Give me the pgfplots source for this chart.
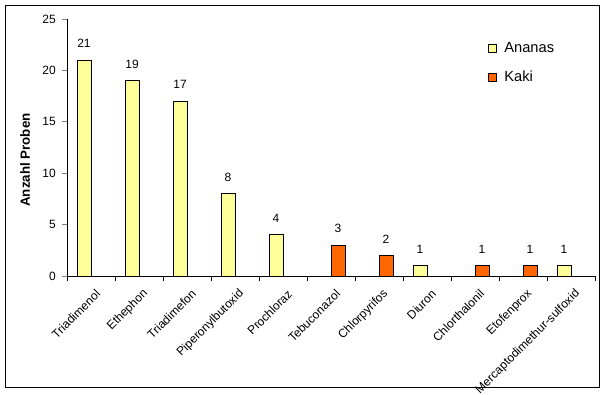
\documentclass[border=0pt]{standalone}
\usepackage{pgfplots}
\pgfplotsset{compat=1.18}
\usepackage{fontspec}
\setmainfont{Liberation Sans}
\definecolor{ananas}{HTML}{FFFF99}
\definecolor{kaki}{HTML}{FF6600}
\begin{document}
\begin{tikzpicture}
\useasboundingbox (0pt,0pt) rectangle (453.75pt,295.5pt);
\fill[white] (0pt,0pt) rectangle (453.75pt,295.5pt);
\draw[black, line width=0.75pt] (3.75pt,5.25pt) rectangle (449.25pt,291.75pt);
\begin{axis}[
  at={(50.25pt,88.5pt)}, anchor=south west,
  scale only axis, width=396pt, height=192.75pt,
  xmin=-0.5, xmax=10.5, ymin=0, ymax=25,
  axis lines*=left,
  axis line style={line width=0.75pt},
  ybar, bar width=10.5pt,
  ytick={0,5,10,15,20,25},
  xtick={0,...,10},
  xticklabels={Triadimenol,Ethephon,Triadimefon,Piperonylbutoxid,Prochloraz,Tebuconazol,Chlorpyrifos,Diuron,Chlorthalonil,Etofenprox,Mercaptodimethur-sulfoxid},
  minor xtick={-0.5,0.5,...,10.5},
  tick align=outside,
  major tick length=3.75pt,
  minor tick length=3.75pt,
  xtick style={draw=none},
  minor x tick style={draw=black, line width=0.75pt},
  ytick style={line width=0.75pt},
  /pgf/number format/assume math mode=true,
  tick label style={font=\fontsize{9pt}{10pt}\selectfont},
  xticklabel style={rotate=45, anchor=east, inner sep=0pt, yshift=-9.5pt, xshift=-2pt},
  yticklabel style={inner sep=0pt, xshift=-4.5pt},
  ylabel={\textbf{Anzahl Proben}},
  ylabel style={at={(axis description cs:-0.0795,0.451)}, anchor=center, font=\fontsize{10pt}{12pt}\selectfont},
  nodes near coords,
  every node near coord/.append style={font=\fontsize{9pt}{10pt}\selectfont, inner sep=0pt, anchor=south, yshift=9pt},
  legend style={draw=none, fill=none, at={(rel axis cs:0.796,0.92)}, anchor=north west,
    font=\fontsize{11pt}{13pt}\selectfont, row sep=8pt, inner sep=0pt,
    /tikz/every odd column/.append style={column sep=4pt}},
  legend cell align=left,
  legend image code/.code={\draw[#1, draw=black, line width=0.6pt] (0pt,-3pt) rectangle (6pt,3pt);},
]
\addplot[fill=ananas, draw=black, line width=0.6pt, bar shift=-5.25pt] coordinates {
  (0,21) (1,19) (2,17) (3,8) (4,4) (7,1) (10,1)};
\addlegendentry{Ananas}
\addplot[fill=kaki, draw=black, line width=0.6pt, bar shift=5.25pt] coordinates {
  (5,3) (6,2) (8,1) (9,1)};
\addlegendentry{Kaki}
\end{axis}
\end{tikzpicture}
\end{document}
